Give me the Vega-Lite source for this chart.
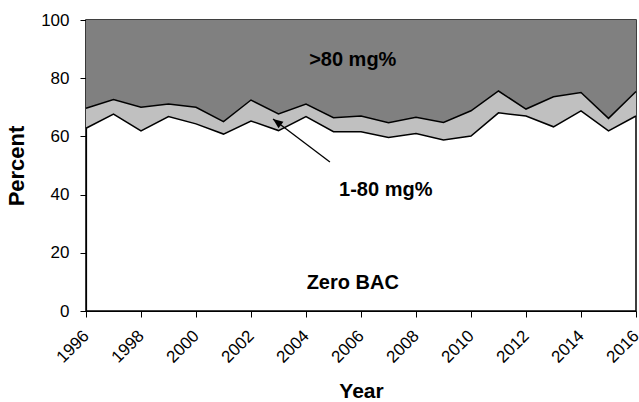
{
  "$schema": "https://vega.github.io/schema/vega-lite/v6.json",
  "width": 550,
  "height": 291,
  "autosize": "none",
  "padding": {"left": 86, "top": 20, "right": 3, "bottom": 91},
  "background": "white",
  "config": {
    "view": {"stroke": "black", "strokeWidth": 1.5},
    "font": "Liberation Sans",
    "axis": {
      "grid": false,
      "domainColor": "black",
      "domainWidth": 1.2,
      "tickColor": "black",
      "labelColor": "black",
      "titleColor": "black",
      "labelFontSize": 17,
      "labelFont": "Liberation Sans",
      "titleFont": "Liberation Sans",
      "titleFontSize": 21,
      "titleFontWeight": "bold",
      "tickSize": 6
    }
  },
  "datasets": {
    "bac": [
      {"year": 1996, "lower": 62.8, "upper": 69.7},
      {"year": 1997, "lower": 67.7, "upper": 72.7},
      {"year": 1998, "lower": 61.9, "upper": 70.0},
      {"year": 1999, "lower": 66.8, "upper": 71.1},
      {"year": 2000, "lower": 64.3, "upper": 70.0},
      {"year": 2001, "lower": 60.8, "upper": 65.1},
      {"year": 2002, "lower": 65.3, "upper": 72.5},
      {"year": 2003, "lower": 62.0, "upper": 67.7},
      {"year": 2004, "lower": 66.8, "upper": 71.1},
      {"year": 2005, "lower": 61.6, "upper": 66.4},
      {"year": 2006, "lower": 61.6, "upper": 67.0},
      {"year": 2007, "lower": 59.6, "upper": 64.7},
      {"year": 2008, "lower": 61.0, "upper": 66.6},
      {"year": 2009, "lower": 58.8, "upper": 64.8},
      {"year": 2010, "lower": 60.1, "upper": 68.8},
      {"year": 2011, "lower": 68.1, "upper": 75.6},
      {"year": 2012, "lower": 67.0, "upper": 69.4},
      {"year": 2013, "lower": 63.3, "upper": 73.6},
      {"year": 2014, "lower": 68.8, "upper": 75.1},
      {"year": 2015, "lower": 61.9, "upper": 66.2},
      {"year": 2016, "lower": 67.0, "upper": 75.4}
    ],
    "notes": [
      {"year": 2005.7, "pct": 86.3, "label": ">80 mg%"},
      {"year": 2006.9, "pct": 41.6, "label": "1-80 mg%"},
      {"year": 2005.7, "pct": 9.6, "label": "Zero BAC"}
    ],
    "arrow": [
      {"x1": 2004.87, "y1": 51.2, "x2": 2002.8, "y2": 66.0}
    ]
  },
  "layer": [
    {
      "data": {"name": "bac"},
      "mark": {"type": "area", "color": "#808080", "opacity": 1},
      "encoding": {
        "x": {
          "field": "year", "type": "quantitative",
          "scale": {"domain": [1996, 2016], "nice": false, "zero": false},
          "axis": {
            "title": "Year",
            "values": [1996,1997,1998,1999,2000,2001,2002,2003,2004,2005,2006,2007,2008,2009,2010,2011,2012,2013,2014,2015,2016],
            "format": "d",
            "labelExpr": "datum.value % 2 == 0 ? datum.label : ''",
            "labelAngle": -45,
            "labelAlign": "right",
            "labelBaseline": "middle",
            "labelPadding": 16,
            "labelOverlap": false,
            "labelBound": false,
            "titlePadding": 15
          }
        },
        "y": {
          "field": "upper", "type": "quantitative",
          "scale": {"domain": [0, 100], "nice": false},
          "axis": {"title": "Percent", "titleFontSize": 22, "values": [0, 20, 40, 60, 80, 100], "titlePadding": 12, "labelPadding": 11}
        },
        "y2": {"datum": 100}
      }
    },
    {
      "data": {"name": "bac"},
      "mark": {"type": "area", "color": "#C0C0C0", "opacity": 1},
      "encoding": {
        "x": {"field": "year", "type": "quantitative"},
        "y": {"field": "upper", "type": "quantitative"},
        "y2": {"field": "lower"}
      }
    },
    {
      "data": {"name": "bac"},
      "mark": {"type": "line", "color": "black", "strokeWidth": 1.5},
      "encoding": {
        "x": {"field": "year", "type": "quantitative"},
        "y": {"field": "upper", "type": "quantitative"}
      }
    },
    {
      "data": {"name": "bac"},
      "mark": {"type": "line", "color": "black", "strokeWidth": 1.5},
      "encoding": {
        "x": {"field": "year", "type": "quantitative"},
        "y": {"field": "lower", "type": "quantitative"}
      }
    },
    {
      "data": {"name": "arrow"},
      "mark": {"type": "rule", "color": "black", "strokeWidth": 1.3},
      "encoding": {
        "x": {"field": "x1", "type": "quantitative"},
        "y": {"field": "y1", "type": "quantitative"},
        "x2": {"field": "x2"},
        "y2": {"field": "y2"}
      }
    },
    {
      "data": {"name": "arrow"},
      "mark": {"type": "point", "shape": "M0,0L-0.45,1.1L0.45,1.1Z", "filled": true, "color": "black", "opacity": 1, "size": 330, "angle": 307},
      "encoding": {
        "x": {"field": "x2", "type": "quantitative"},
        "y": {"field": "y2", "type": "quantitative"}
      }
    },
    {
      "data": {"name": "notes"},
      "mark": {"type": "text", "font": "Liberation Sans", "fontSize": 20, "fontWeight": "bold", "color": "black", "align": "center", "baseline": "middle"},
      "encoding": {
        "x": {"field": "year", "type": "quantitative"},
        "y": {"field": "pct", "type": "quantitative"},
        "text": {"field": "label"}
      }
    }
  ]
}
